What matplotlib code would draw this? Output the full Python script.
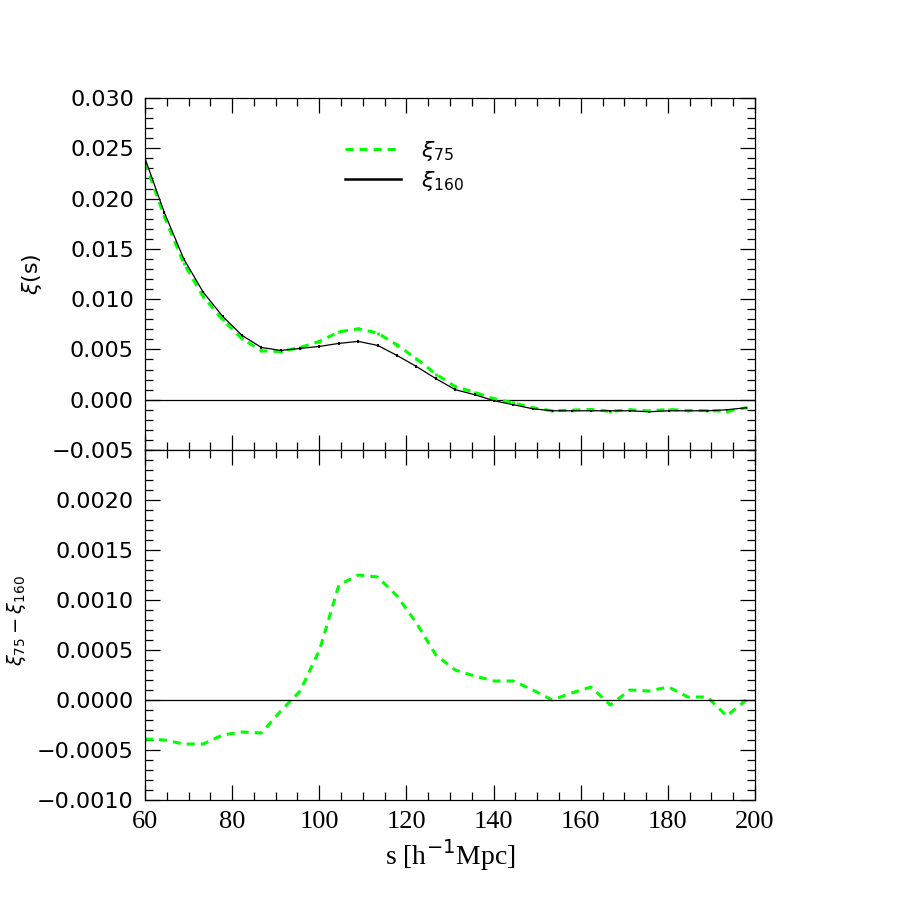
import numpy as np
import matplotlib
matplotlib.use("Agg")
import matplotlib.pyplot as plt
from matplotlib.ticker import MultipleLocator, FuncFormatter
from matplotlib.lines import Line2D

# separation bins [h^-1 Mpc]
s = [60.0, 64.45, 68.9, 73.35, 77.8, 82.25, 86.7, 91.15, 95.6, 100.05,
     104.5, 108.95, 113.4, 117.85, 122.3, 126.75, 131.2, 135.65, 140.1, 144.55,
     149.0, 153.45, 157.9, 162.35, 166.8, 171.25, 175.7, 180.15, 184.6, 189.05,
     193.5, 197.95]

xi160 = [0.0240, 0.0186, 0.0140, 0.0107, 0.0083, 0.0064, 0.0052, 0.0049, 0.0051, 0.0053,
         0.0056, 0.0058, 0.0054, 0.0044, 0.0033, 0.0021, 0.0010, 0.0005, -0.0001, -0.0005,
         -0.0009, -0.0011, -0.0011, -0.0011, -0.0011, -0.0011, -0.0012, -0.0011, -0.0011, -0.0011,
         -0.0010, -0.0008]

xi75 = [0.02361, 0.0182, 0.01356, 0.01026, 0.00795, 0.00608, 0.00487, 0.00479, 0.00519, 0.0058,
        0.00675, 0.00705, 0.00663, 0.00544, 0.00407, 0.00255, 0.0013, 0.00074, 0.00009, -0.00031,
        -0.0008, -0.0011, -0.00103, -0.00097, -0.00115, -0.001, -0.00111, -0.00097, -0.00107, -0.00107,
        -0.00116, -0.0008]

dxi = [-0.00039, -0.00040, -0.00044, -0.00044, -0.00035, -0.00032, -0.00033, -0.00011, 0.00009, 0.00050,
       0.00115, 0.00125, 0.00123, 0.00104, 0.00077, 0.00045, 0.00030, 0.00024, 0.00019, 0.00019,
       0.00010, 0.0, 0.00007, 0.00013, -0.00005, 0.00010, 0.00009, 0.00013, 0.00003, 0.00003,
       -0.00016, 0.0]

err160 = 0.00012
err75 = 0.00015

green = (0, 1, 0)

fig = plt.figure(figsize=(9, 9), dpi=100)
ax1 = fig.add_axes([0.1611, 0.5, 0.6778, 0.3911])
ax2 = fig.add_axes([0.1611, 0.1111, 0.6778, 0.3889])

def minus(fmt):
    return FuncFormatter(lambda v, p: (fmt % v).replace('-', '\u2212'))

# top panel
ax1.errorbar(s, xi75, yerr=err75, color=green, lw=2.2, dashes=(2.6, 2.0),
             elinewidth=2.0, capsize=0)
ax1.errorbar(s, xi160, yerr=err160, color='black', lw=0.9,
             elinewidth=1.5, capsize=0)
ax1.axhline(0, color='black', lw=0.9)
ax1.set_xlim(60, 200)
ax1.set_ylim(-0.005, 0.030)
ax1.yaxis.set_major_locator(MultipleLocator(0.005))
ax1.yaxis.set_minor_locator(MultipleLocator(0.001))
ax1.yaxis.set_major_formatter(minus('%.3f'))
ax1.tick_params(labelbottom=False)

handles = [Line2D([], [], color=green, lw=2.2, dashes=(2.6, 2.0)),
           Line2D([], [], color='black', lw=1.8)]
ax1.legend(handles, [r'$\xi_{75}$', r'$\xi_{160}$'], loc='upper left',
           bbox_to_anchor=(0.295, 0.94), frameon=False, fontsize=16,
           handlelength=2.5, handletextpad=0.9, labelspacing=0.25)

# bottom panel
ax2.plot(s, dxi, color=green, lw=2.2, dashes=(2.6, 2.0))
ax2.axhline(0, color='black', lw=0.9)
ax2.set_xlim(60, 200)
ax2.set_ylim(-0.0010, 0.0025)
ax2.set_yticks(np.arange(-0.0010, 0.00201, 0.0005))
ax2.yaxis.set_minor_locator(MultipleLocator(0.0001))
ax2.yaxis.set_major_formatter(minus('%.4f'))

for ax in (ax1, ax2):
    ax.xaxis.set_major_locator(MultipleLocator(20))
    ax.xaxis.set_minor_locator(MultipleLocator(5))
    ax.tick_params(which='both', direction='in', top=True, right=True, width=0.9)
    ax.tick_params(which='major', length=11, labelsize=16, pad=8)
    ax.tick_params(which='minor', length=5.5)
    for sp in ax.spines.values():
        sp.set_linewidth(0.9)

for lab in ax2.get_xticklabels():
    lab.set_family('Liberation Serif')
    lab.set_fontsize(19)

fig.text(0.035, 0.695, r'$\xi(\mathrm{s})$', rotation=90, fontsize=16, ha='center', va='center')
fig.text(0.018, 0.31, r'$\xi_{75}-\xi_{160}$', rotation=90, fontsize=14, ha='center', va='center')
fig.text(0.5, 0.05, r's [h$^{-1}$Mpc]', fontsize=20, family='Liberation Serif',
         ha='center', va='center')

fig.savefig('out.png', dpi=100)
